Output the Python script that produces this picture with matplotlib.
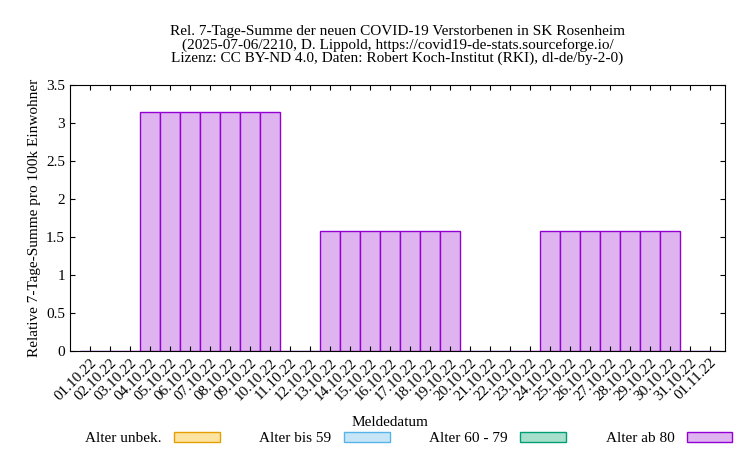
import matplotlib
matplotlib.use("Agg")
import matplotlib.pyplot as plt
import numpy as np
from matplotlib.patches import Patch

plt.rcParams['font.family'] = ['Liberation Serif', 'DejaVu Serif']
dates = ["%02d.10.22" % d for d in range(1, 32)] + ["01.11.22"]
values = [0,0,0,3.15,3.15,3.15,3.15,3.15,3.15,3.15,0,0,
          1.58,1.58,1.58,1.58,1.58,1.58,1.58,0,0,0,0,
          1.58,1.58,1.58,1.58,1.58,1.58,1.58,0,0]

fig = plt.figure(figsize=(7.5, 4.5), dpi=100)
ax = fig.add_axes([70/750, 1-351/450, 655/750, 266/450])
x = np.arange(len(dates))
ax.bar(x, values, width=1.0, color='#dfb3f0', edgecolor='#9400d3', linewidth=1)
ax.set_xlim(-1, 31.75)
ax.set_ylim(0, 3.5)
ax.set_yticks(np.arange(0, 3.51, 0.5))
ax.set_yticklabels(['0','0.5','1','1.5','2','2.5','3','3.5'])
ax.set_xticks(x)
ax.set_xticklabels(dates, rotation=45, ha='right', rotation_mode='anchor')
ax.tick_params(labelsize=11, direction='in', top=True, right=True)
ax.set_ylabel('Relative 7-Tage-Summe pro 100k Einwohner', fontsize=11)
fig.text(0.52, 1-422/450, 'Meldedatum', ha='center', va='center', fontsize=11)
fig.text(0.53, 1-45/450, 'Rel. 7-Tage-Summe der neuen COVID-19 Verstorbenen in SK Rosenheim\n'
         '(2025-07-06/2210, D. Lippold, https://covid19-de-stats.sourceforge.io/\n'
         'Lizenz: CC BY-ND 4.0, Daten: Robert Koch-Institut (RKI), dl-de/by-2-0)',
         ha='center', va='center', fontsize=11, linespacing=1.0)
handles = [Patch(facecolor='#fce3a0', edgecolor='#e69f00', label='Alter unbek.'),
           Patch(facecolor='#c6e6f7', edgecolor='#56b4e9', label='Alter bis 59'),
           Patch(facecolor='#a6e0cc', edgecolor='#009e73', label='Alter 60 - 79'),
           Patch(facecolor='#dfb3f0', edgecolor='#9400d3', label='Alter ab 80')]
fig.legend(handles=handles, loc='lower center', bbox_to_anchor=(0.545, -0.02), ncol=4,
           frameon=False, markerfirst=False, fontsize=11, columnspacing=2.6,
           handlelength=3, handleheight=0.7)
fig.savefig('out.png', dpi=100)
